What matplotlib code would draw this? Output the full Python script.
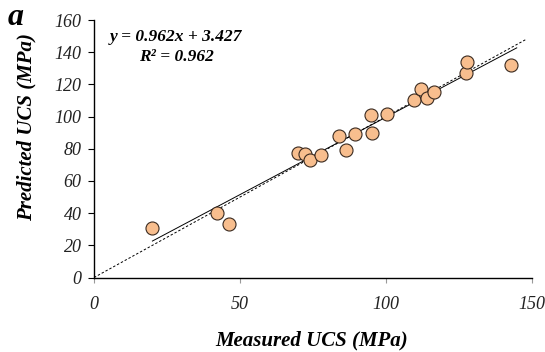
import numpy as np
import matplotlib.pyplot as plt

# measured vs predicted UCS (MPa)
measured = [20.0, 42.0, 46.3, 69.8, 72.4, 74.0, 77.6, 84.0, 86.2, 89.4,
            94.9, 95.2, 100.2, 109.7, 112.0, 114.0, 116.5, 127.3, 127.8, 142.8]
predicted = [30.9, 40.3, 33.0, 77.1, 76.5, 72.8, 75.9, 88.1, 79.2, 88.9,
             100.9, 89.9, 101.6, 110.2, 116.9, 111.5, 115.2, 127.2, 133.9, 131.8]

slope = 0.962
intercept = 3.427
x_ticks = [0, 50, 100, 150]
y_ticks = [0, 20, 40, 60, 80, 100, 120, 140, 160]

plt.rcParams['font.family'] = ['Liberation Serif', 'DejaVu Serif']

fig = plt.figure(figsize=(5.45, 3.52), dpi=100)
ax = fig.add_axes([0.1725, 0.2116, 0.8035, 0.7314])

# 1:1 line
ax.plot([0, 148], [0, 148], linestyle=(0, (2.5, 2)), color='black', lw=0.7, zorder=1)
# fitted trend
xf = np.array([min(measured), max(measured) + 2])
ax.plot(xf, slope * xf + intercept, color='black', lw=0.7, zorder=1)

ax.scatter(measured, predicted, s=88, facecolor='#F8BE8E', edgecolor='#3a2a20',
           linewidth=0.8, zorder=3)

ax.set_xlim(0, 150)
ax.set_ylim(0, 160)
ax.set_xticks(x_ticks)
ax.set_yticks(y_ticks)
ax.tick_params(axis='x', direction='out', length=3.6, color='#999999', pad=10,
               labelsize=13)
ax.tick_params(axis='y', direction='out', length=4, pad=5, labelsize=13)
for lab in ax.get_xticklabels() + ax.get_yticklabels():
    lab.set_fontstyle('italic')
    lab.set_color('#222222')

for side in ['top', 'right']:
    ax.spines[side].set_visible(False)
for side in ['left', 'bottom']:
    ax.spines[side].set_linewidth(1.0)

ax.set_xlabel('Measured UCS (MPa)', fontsize=15, fontweight='bold',
              fontstyle='italic')
ax.set_ylabel('Predicted UCS (MPa)', fontsize=15, fontweight='bold',
              fontstyle='italic')
ax.xaxis.set_label_coords(0.497, -0.205)
ax.yaxis.set_label_coords(-0.132, 0.586)

ax.text(0.037, 0.935, 'y = 0.962x + 3.427', transform=ax.transAxes, fontsize=12.5,
        fontweight='bold', fontstyle='italic', ha='left', va='center')
ax.text(0.103, 0.857, 'R² = 0.962', transform=ax.transAxes, fontsize=12.5,
        fontweight='bold', fontstyle='italic', ha='left', va='center')

fig.text(0.014, 0.929, 'a', fontsize=23, fontweight='bold', fontstyle='italic',
         ha='left', va='baseline')

fig.savefig('out.png', dpi=100)
